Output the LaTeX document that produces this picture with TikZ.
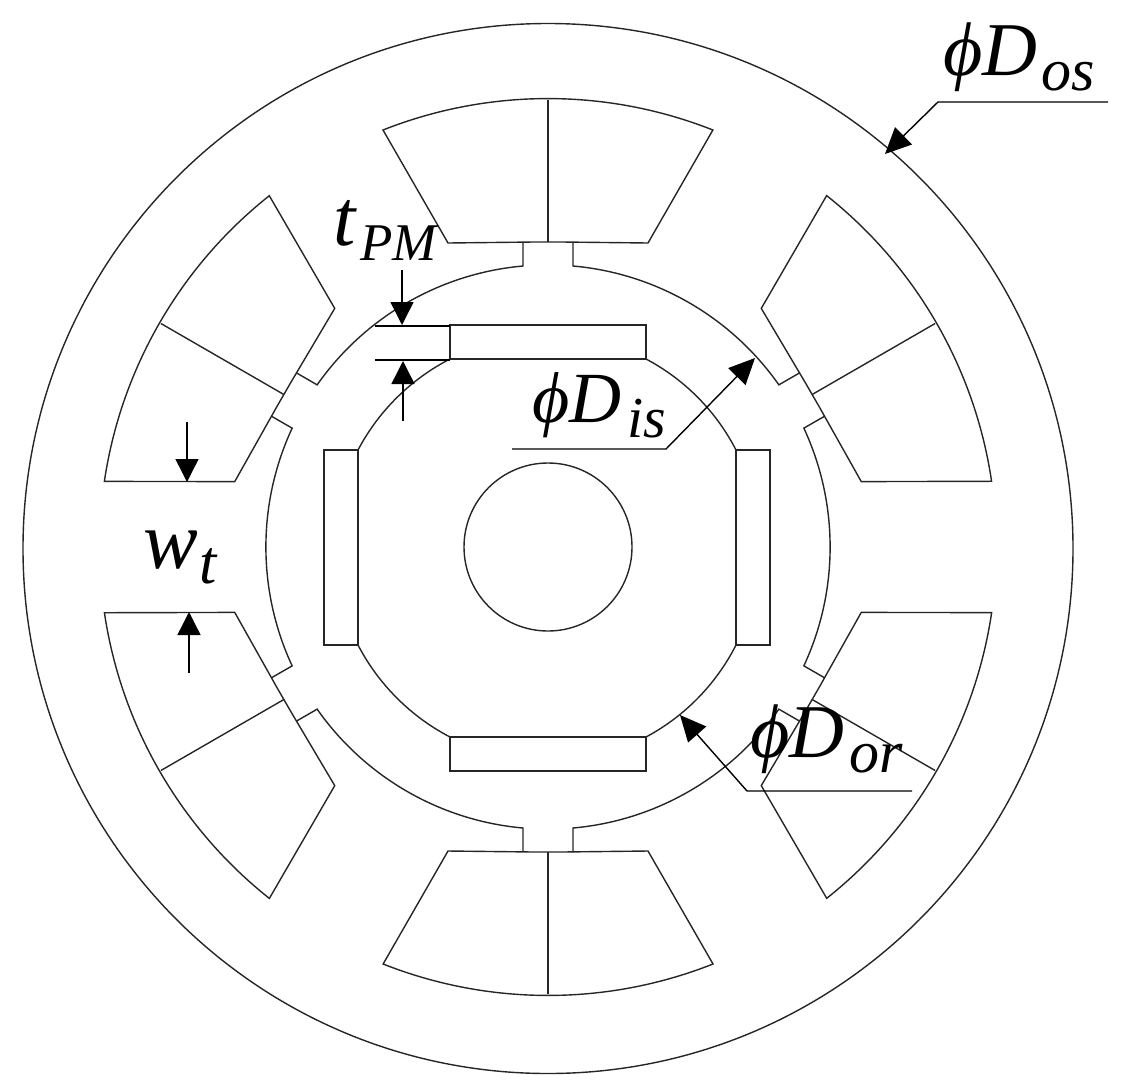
\documentclass[tikz,border=0pt]{standalone}
\usepackage{fontspec}
\setmainfont{Liberation Serif}
\usetikzlibrary{arrows.meta}
\newcommand{\dimtext}[5]{{\fontsize{#1}{#1}\selectfont\itshape #2\kern #4pt\raisebox{-15pt}{\fontsize{#5}{#5}\selectfont #3}}}
\tikzset{
  part/.style={draw=black!85,line width=1.4pt,line join=miter},
  dimline/.style={draw=black,line width=1.4pt},
  dimarrow/.style={draw=black,line width=1.4pt,-{Triangle[width=23pt,length=23pt]}},
  leaderarrow/.style={draw=black,line width=1.4pt,-{Triangle[width=24pt,length=26pt]}},
  label/.style={anchor=base west,inner sep=0pt,outer sep=0pt,text=black}
}
\begin{document}
\begin{tikzpicture}[x=1pt,y=-1pt]
\useasboundingbox (0,0) rectangle (1129,1090);
% stator outer circle
\draw[part] (548,548.5) circle[radius=525pt];
% slots and teeth
\foreach \k in {0,...,5}{
\begin{scope}[shift={(548,547)},x=1pt,y=1pt,rotate=60*\k]
  \draw[part] (-100,304) -- (-165,417) arc[start angle=111.58,end angle=68.42,radius=448.46]
     -- (100,304) -- (14,305) -- (-14,305) -- cycle;
  \draw[part] (0,305) -- (0,447);
  \draw[part] (-25,305) -- (-25,281) arc[start angle=95.08,end angle=144.92,radius=282.1]
     -- (-251.6,174.15);
\end{scope}}
% rotor magnets
\draw[part] (450,325) rectangle (646,359);
\draw[part] (736,450) rectangle (770,645);
\draw[part] (450,737) rectangle (646,771);
\draw[part] (324,450) rectangle (358,645);
% rotor arcs
\draw[part] (450,359) to[bend right=17.5,looseness=.87] (358,450);
\draw[part] (646,359) to[bend left=17.5,looseness=.87] (736,450);
\draw[part] (358,645) to[bend right=17.5,looseness=.87] (450,737);
\draw[part] (736,645) to[bend left=17.5,looseness=.87] (646,737);
\draw[part] (548,547) circle[radius=84pt];
% labels
\node[label] (dos) at (943,75) {\dimtext{76}{ϕD}{os}{4}{60}};
\node[label] (dis) at (532,422) {\dimtext{72}{ϕD}{is}{6}{58}};
\node[label] (dor) at (750,757) {\dimtext{76}{ϕD}{or}{5}{60}};
\node[label] (tpm) at (333,245) {\dimtext{80}{t}{PM}{5}{53}};
\node[label] (wt) at (143,568) {\dimtext{82}{w}{t}{2}{62}};
% leaders
\coordinate (dosE) at (1108,102); \coordinate (dosK) at (938,102); \coordinate (dosT) at (885,154);
\draw[leaderarrow] (dosE) -- (dosK) -- (dosT);
\coordinate (disE) at (512,449); \coordinate (disK) at (666,449); \coordinate (disT) at (755,358);
\draw[leaderarrow] (disE) -- (disK) -- (disT);
\coordinate (dorE) at (912,791); \coordinate (dorK) at (747,791); \coordinate (dorT) at (680,715);
\draw[leaderarrow] (dorE) -- (dorK) -- (dorT);
% t_PM dimension
\coordinate (tpA) at (375,326); \coordinate (tpB) at (450,326);
\coordinate (tpC) at (375,360); \coordinate (tpD) at (450,360);
\draw[dimline] (tpA) -- (tpB);
\draw[dimline] (tpC) -- (tpD);
\coordinate (tpU) at (402,270); \coordinate (tpUt) at (402,325);
\coordinate (tpL) at (403,421); \coordinate (tpLt) at (403,361);
\draw[dimarrow] (tpU) -- (tpUt);
\draw[dimarrow] (tpL) -- (tpLt);
% w_t dimension
\coordinate (wtU) at (187,422); \coordinate (wtUt) at (187,482);
\coordinate (wtL) at (189,673); \coordinate (wtLt) at (189,612);
\draw[dimarrow] (wtU) -- (wtUt);
\draw[dimarrow] (wtL) -- (wtLt);
\end{tikzpicture}
\end{document}
